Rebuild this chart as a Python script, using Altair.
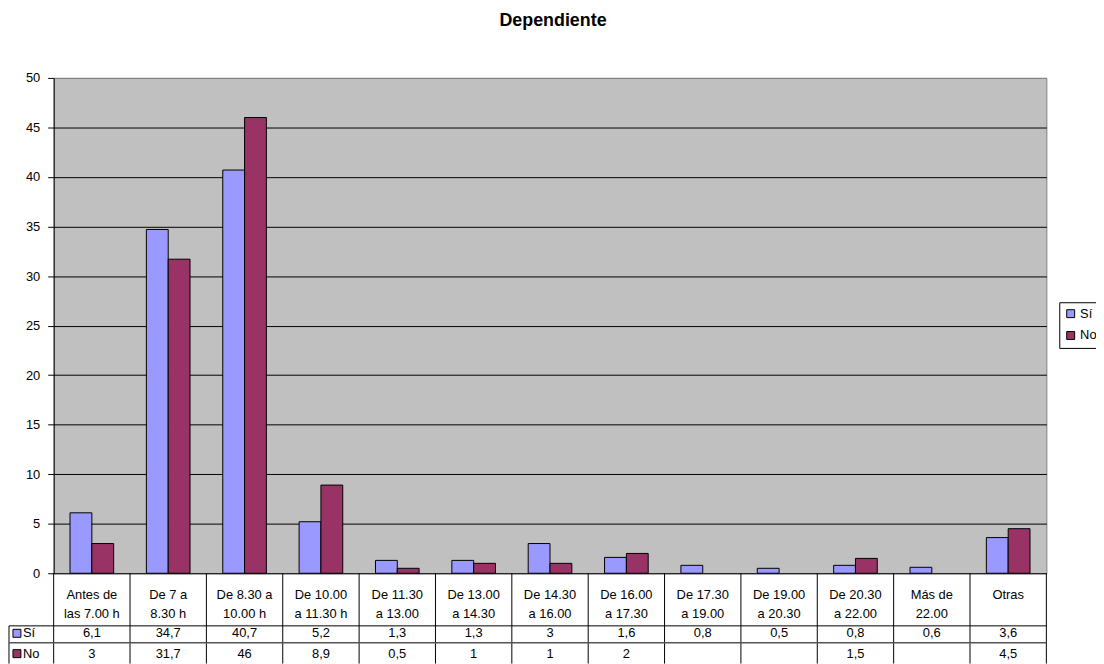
import altair as alt
import pandas as pd

categories = ["Antes de\nlas 7.00 h", "De 7 a\n8.30 h", "De 8.30 a\n10.00 h", "De 10.00\na 11.30 h",
              "De 11.30\na 13.00", "De 13.00\na 14.30", "De 14.30\na 16.00", "De 16.00\na 17.30",
              "De 17.30\na 19.00", "De 19.00\na 20.30", "De 20.30\na 22.00", "Más de\n22.00", "Otras"]
si_values = [6.1, 34.7, 40.7, 5.2, 1.3, 1.3, 3, 1.6, 0.8, 0.5, 0.8, 0.6, 3.6]
no_values = [3, 31.7, 46, 8.9, 0.5, 1, 1, 2, None, None, 1.5, None, 4.5]
series = ["Sí", "No"]
colors = ["#9999FF", "#993366"]
y_ticks = list(range(0, 51, 5))

FONT = "Liberation Sans"


def fmt(v):
    if v is None:
        return ""
    if float(v).is_integer():
        return str(int(v))
    return str(v).replace(".", ",")


rows = []
for s, vals in zip(series, [si_values, no_values]):
    for c, v in zip(categories, vals):
        rows.append({"cat": c, "series": s, "value": v, "label": fmt(v)})
df = pd.DataFrame(rows)
bars_df = df.dropna(subset=["value"])
cat_df = pd.DataFrame({"cat": categories})

xscale = alt.Scale(domain=categories, paddingInner=0, paddingOuter=0)
X = alt.X("cat:N", scale=xscale, axis=None)

bars = alt.Chart(bars_df).mark_bar(stroke="black", strokeWidth=1).encode(
    x=X,
    xOffset=alt.XOffset("series:N", scale=alt.Scale(domain=series, paddingInner=0, paddingOuter=0.75)),
    y=alt.Y("value:Q", scale=alt.Scale(domain=[0, 50], nice=False),
            axis=alt.Axis(values=y_ticks, title=None, labelFont=FONT, labelFontSize=13,
                          labelColor="black", tickColor="black", tickSize=6, labelPadding=8,
                          domainColor="black", grid=True,
                          gridColor=alt.condition("datum.value == 50", alt.value("#808080"), alt.value("black")),
                          gridOpacity=1)),
    color=alt.Color("series:N", scale=alt.Scale(domain=series, range=colors),
                    legend=alt.Legend(orient="none", legendX=1013, legendY=226, title=None,
                                      strokeColor="black", fillColor="white", padding=5,
                                      symbolType="square", symbolSize=64, symbolStrokeColor="black",
                                      symbolStrokeWidth=1, labelFont=FONT, labelFontSize=13,
                                      labelColor="black", rowPadding=8, labelOffset=3)),
)

# data table header
header = alt.Chart(cat_df).mark_text(font=FONT, fontSize=13, color="black", lineBreak="\n",
                                     lineHeight=19, baseline="middle", align="center").encode(
    x=X, y=alt.value(521), text="cat:N")

layers = [bars, header]

row_y = {"Sí": 559.5, "No": 580}
for s, col in zip(series, colors):
    sub = df[df["series"] == s]
    layers.append(alt.Chart(sub).mark_text(font=FONT, fontSize=13, color="black", baseline="middle").encode(
        x=X, y=alt.value(row_y[s]), text="label:N"))
    layers.append(alt.Chart(pd.DataFrame({"series": [s]})).mark_text(
        font=FONT, fontSize=13, color="black", baseline="middle", align="left").encode(
        x=alt.value(-31), y=alt.value(row_y[s]), text="series:N"))
    layers.append(alt.Chart(pd.DataFrame({"series": [s]})).mark_square(
        size=64, fill=col, stroke="black", strokeWidth=1, opacity=1).encode(
        x=alt.value(-37), y=alt.value(row_y[s])))

# table grid lines
vlines = alt.Chart(cat_df).mark_rule(color="black", strokeWidth=1).encode(
    x=alt.X("cat:N", scale=xscale, axis=None, bandPosition=0),
    y=alt.value(499), y2=alt.value(590))
right_edge = alt.Chart(cat_df.head(1)).mark_rule(color="black", strokeWidth=1).encode(
    x=alt.value(1000), y=alt.value(499), y2=alt.value(590))
left_edge = alt.Chart(cat_df.head(1)).mark_rule(color="black", strokeWidth=1).encode(
    x=alt.value(-45), y=alt.value(552), y2=alt.value(590))
hline1 = alt.Chart(cat_df.head(1)).mark_rule(color="black", strokeWidth=1).encode(
    x=alt.value(-45), x2=alt.value(1000), y=alt.value(552))
hline2 = alt.Chart(cat_df.head(1)).mark_rule(color="#555555", strokeWidth=1.5).encode(
    x=alt.value(-45), x2=alt.value(1000), y=alt.value(569))
layers += [vlines, right_edge, left_edge, hline1, hline2]

chart = alt.layer(*layers).properties(
    width=1000, height=499,
    title=alt.Title("Dependiente", fontSize=18, fontWeight="bold", font=FONT, color="black",
                    anchor="middle", offset=42, dx=3),
    autosize=alt.AutoSizeParams(type="none"),
    padding={"left": 46, "top": 68, "right": 50, "bottom": 89},
    background="white",
).configure_view(fill="#C0C0C0", stroke="#808080", strokeWidth=1)

chart.save("out.html", embed_options={"renderer": "svg", "actions": False})
